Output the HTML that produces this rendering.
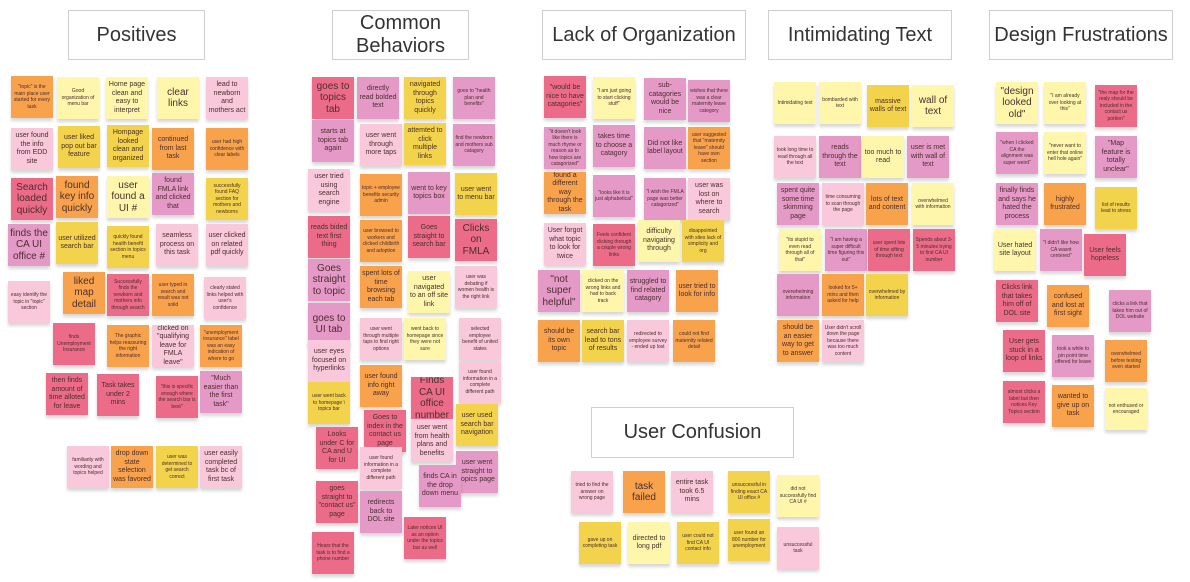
<!DOCTYPE html>
<html><head><meta charset="utf-8">
<style>
body{margin:0;width:1190px;height:582px;background:#fff;position:relative;overflow:hidden;font-family:"Liberation Sans",sans-serif;}
.t{position:absolute;border:1.5px solid #cfcfcf;background:#fff;box-sizing:border-box;display:flex;align-items:center;justify-content:center;text-align:center;color:#333;font-size:20px;line-height:23px;}
.n{position:absolute;width:42px;height:42px;box-sizing:border-box;padding:2px;display:flex;align-items:center;justify-content:center;text-align:center;color:#4a2f2f;font-size:5px;line-height:6.5px;box-shadow:0 3px 3px rgba(0,0,0,.16);overflow:hidden;}
.m{font-size:7px;line-height:8.5px;}
.b{font-size:10px;line-height:11.5px;}
.o{background:#f9a24c}.ly{background:#fdf6ab}.y{background:#f2d34b}.lp{background:#f9c8da}.mp{background:#e599c6}.r{background:#eb6b88}
</style></head><body>
<div class="t" style="left:68px;top:10px;width:137px;height:50px">Positives</div>
<div class="t" style="left:332px;top:10px;width:137px;height:50px">Common<br>Behaviors</div>
<div class="t" style="left:542px;top:10px;width:204px;height:50px">Lack of Organization</div>
<div class="t" style="left:768px;top:10px;width:184px;height:50px">Intimidating Text</div>
<div class="t" style="left:989px;top:10px;width:184px;height:50px">Design Frustrations</div>
<div class="t" style="left:591px;top:407px;width:203px;height:51px">User Confusion</div>

<!-- Positives -->
<div class="n o" style="left:11px;top:76px">"topic" is the main place user started for every task</div>
<div class="n ly" style="left:57px;top:77px">Good organization of menu bar</div>
<div class="n ly m" style="left:106px;top:77px">Home page clean and easy to interpret</div>
<div class="n ly b" style="left:157px;top:77px">clear links</div>
<div class="n lp m" style="left:206px;top:77px">lead to newborn and mothers act</div>
<div class="n lp m" style="left:11px;top:128px">user found the info from EDD site</div>
<div class="n y m" style="left:58px;top:126px">user liked pop out bar feature</div>
<div class="n y m" style="left:107px;top:125px">Hompage looked clean and organized</div>
<div class="n o m" style="left:152px;top:128px">continued from last task</div>
<div class="n o" style="left:206px;top:128px">user had high confidence with clear labels</div>
<div class="n r b" style="left:11px;top:178px">Search loaded quickly</div>
<div class="n o b" style="left:56px;top:176px">found key info quickly</div>
<div class="n ly b" style="left:107px;top:176px">user found a UI #</div>
<div class="n mp m" style="left:152px;top:173px">found FMLA link and clicked that</div>
<div class="n y" style="left:206px;top:178px">successfully found FAQ section for mothers and newborns</div>
<div class="n mp b" style="left:8px;top:224px">finds the CA UI office #</div>
<div class="n y m" style="left:56px;top:222px">user utilized search bar</div>
<div class="n y" style="left:107px;top:226px">quickly found health benefit section in topics menu</div>
<div class="n lp m" style="left:156px;top:224px">seamless process on this task</div>
<div class="n lp m" style="left:206px;top:224px">user clicked on related pdf quickly</div>
<div class="n lp" style="left:8px;top:281px">easy identify the topic in "topic" section</div>
<div class="n o b" style="left:63px;top:272px">liked map detail</div>
<div class="n r" style="left:107px;top:274px">Successfully finds the newborn and mothers info through search</div>
<div class="n o" style="left:152px;top:274px">user typed in search and result was not solid</div>
<div class="n lp" style="left:204px;top:277px">clearly stated links helped with user's confidence</div>
<div class="n r" style="left:53px;top:323px">finds Unemployment Insurance</div>
<div class="n o" style="left:107px;top:325px">The graphic helps reassuring the right information</div>
<div class="n lp m" style="left:152px;top:325px">clicked on "qualifying leave for FMLA leave"</div>
<div class="n o" style="left:200px;top:325px">"unemployment insurance" label was an easy indication of where to go</div>
<div class="n r m" style="left:46px;top:373px">then finds amount of time alloted for leave</div>
<div class="n r m" style="left:97px;top:374px">Task takes under 2 mins</div>
<div class="n r" style="left:156px;top:376px">"this is specific enough where the search bar is best"</div>
<div class="n mp m" style="left:200px;top:371px">"Much easier than the first task"</div>
<div class="n lp" style="left:67px;top:446px">familiarity with wording and topics helped</div>
<div class="n o m" style="left:111px;top:446px">drop down state selection was favored</div>
<div class="n y" style="left:156px;top:446px">user was determined to get search correct</div>
<div class="n lp m" style="left:200px;top:446px">user easily completed task bc of first task</div>

<!-- Common Behaviors -->
<div class="n r b" style="left:312px;top:77px">goes to topics tab</div>
<div class="n mp m" style="left:357px;top:77px">directly read bolded text</div>
<div class="n y m" style="left:404px;top:77px">navigated through topics quickly</div>
<div class="n mp" style="left:453px;top:77px">goes to "health plan and benefits"</div>
<div class="n mp m" style="left:312px;top:120px">starts at topics tab again</div>
<div class="n lp m" style="left:360px;top:124px">user went through more taps</div>
<div class="n y m" style="left:404px;top:123px">attemted to click multiple links</div>
<div class="n mp" style="left:453px;top:124px">find the newborn and mothers sub catagory</div>
<div class="n lp m" style="left:308px;top:169px">user tried using search engine</div>
<div class="n o" style="left:360px;top:174px">topic + employee benefits security admin</div>
<div class="n mp m" style="left:408px;top:172px">went to key topics box</div>
<div class="n y m" style="left:455px;top:173px">user went to menu bar</div>
<div class="n r m" style="left:308px;top:216px">reads bided text first thing</div>
<div class="n o" style="left:360px;top:220px">user browsed to workers and clicked childbirth and adoption</div>
<div class="n r m" style="left:408px;top:216px">Goes straight to search bar</div>
<div class="n r b" style="left:455px;top:219px">Clicks on FMLA</div>
<div class="n mp b" style="left:308px;top:259px">Goes straight to topic</div>
<div class="n o m" style="left:360px;top:266px">spent lots of time browsing each tab</div>
<div class="n ly m" style="left:408px;top:271px">user navigated to an off site link</div>
<div class="n lp" style="left:455px;top:266px">user was debating if women health is the right link</div>
<div class="n mp b" style="left:308px;top:303px">goes to UI tab</div>
<div class="n lp" style="left:360px;top:318px">user went through multiple taps to find right options</div>
<div class="n ly" style="left:404px;top:318px">went back to homepage since they were not sure</div>
<div class="n lp" style="left:459px;top:318px">selected employee benefit of united states</div>
<div class="n lp m" style="left:308px;top:340px">user eyes focused on hyperlinks</div>
<div class="n o m" style="left:360px;top:365px">user found info right away</div>
<div class="n r b" style="left:411px;top:377px">Finds CA UI office number</div>
<div class="n lp" style="left:459px;top:361px">user found information in a complete different path</div>
<div class="n y" style="left:308px;top:382px">user went back to homepage \ topics bar</div>
<div class="n y m" style="left:456px;top:404px">user used search bar navigation</div>
<div class="n r m" style="left:364px;top:410px">Goes to index in the contact us page</div>
<div class="n lp m" style="left:411px;top:420px">user went from health plans and benefits</div>
<div class="n r m" style="left:316px;top:427px">Looks under C for CA and U for UI</div>
<div class="n lp" style="left:360px;top:447px">user found information in a complete different path</div>
<div class="n mp m" style="left:456px;top:451px">user went straight to topics page</div>
<div class="n mp m" style="left:419px;top:465px">finds CA in the drop down menu</div>
<div class="n r m" style="left:316px;top:481px">goes straight to "contact us" page</div>
<div class="n mp m" style="left:360px;top:491px">redirects back to DOL site</div>
<div class="n r" style="left:404px;top:517px">Later notices UI as an option under the topics bar as well</div>
<div class="n r" style="left:312px;top:532px">Hears that the task is to find a phone number</div>

<!-- Lack of Organization -->
<div class="n r m" style="left:544px;top:76px">"would be nice to have catagories"</div>
<div class="n ly" style="left:593px;top:77px">"I am just going to start clicking stuff"</div>
<div class="n mp m" style="left:644px;top:78px">sub-catagories would be nice</div>
<div class="n mp" style="left:688px;top:80px">wishes that there was a clear maternity leave category</div>
<div class="n mp" style="left:544px;top:127px">"it doesn't look like there is much rhyme or reason as to how topics are catagorized"</div>
<div class="n mp m" style="left:593px;top:125px">takes time to choose a catagory</div>
<div class="n mp m" style="left:644px;top:127px">Did not like label layout</div>
<div class="n o" style="left:688px;top:127px">user suggested that "maternity leave" should have own section</div>
<div class="n o m" style="left:544px;top:172px">found a different way through the task</div>
<div class="n mp" style="left:593px;top:175px">"looks like it is just alphabetical"</div>
<div class="n mp" style="left:644px;top:178px">"I wish the FMLA page was better catagorized"</div>
<div class="n lp m" style="left:688px;top:178px">user was lost on where to search</div>
<div class="n lp m" style="left:544px;top:223px">User forgot what topic to look for twice</div>
<div class="n r" style="left:593px;top:224px">Feels confident clicking through a couple wrong links</div>
<div class="n ly m" style="left:638px;top:220px">difficulty navigating through</div>
<div class="n y" style="left:682px;top:220px">disappointed with sites lack of simplicity and org</div>
<div class="n mp b" style="left:538px;top:270px">"not super helpful"</div>
<div class="n ly" style="left:582px;top:270px">clicked on the wrong links and had to back track</div>
<div class="n mp m" style="left:627px;top:270px">struggled to find related catagory</div>
<div class="n o m" style="left:676px;top:270px">user tried to look for info</div>
<div class="n o m" style="left:538px;top:320px">should be its own topic</div>
<div class="n y m" style="left:582px;top:320px">search bar lead to tons of results</div>
<div class="n lp" style="left:627px;top:320px">redirected to employee survey - ended up lost</div>
<div class="n o" style="left:673px;top:320px">could not find maternity related detail</div>

<!-- Intimidating Text -->
<div class="n ly" style="left:774px;top:82px">Intimidating text</div>
<div class="n ly" style="left:819px;top:82px">bombarded with text</div>
<div class="n y m" style="left:867px;top:85px">massive walls of text</div>
<div class="n ly b" style="left:912px;top:85px">wall of text</div>
<div class="n lp" style="left:774px;top:136px">took long time to read through all the text</div>
<div class="n mp m" style="left:819px;top:136px">reads through the text</div>
<div class="n ly m" style="left:862px;top:136px">too much to read</div>
<div class="n mp m" style="left:907px;top:136px">user is met with wall of text</div>
<div class="n mp m" style="left:777px;top:183px">spent quite some time skimming page</div>
<div class="n lp" style="left:822px;top:183px">time consuming to scan through the page</div>
<div class="n o m" style="left:866px;top:183px">lots of text and content</div>
<div class="n ly" style="left:912px;top:183px">overwhelmed with information</div>
<div class="n ly" style="left:779px;top:229px">"its stupid to even read through all of that"</div>
<div class="n mp" style="left:825px;top:229px">"I am having a super difficult time figuring this out"</div>
<div class="n r" style="left:868px;top:229px">user spent lots of time sifting through text</div>
<div class="n r" style="left:913px;top:229px">Spends about 3-5 minutes trying to find CA UI number</div>
<div class="n mp" style="left:777px;top:274px">overwhelming information</div>
<div class="n o" style="left:822px;top:274px">looked for 5+ mins and then asked for help</div>
<div class="n y" style="left:866px;top:274px">overwhelmed by information</div>
<div class="n o m" style="left:777px;top:320px">should be an easier way to get to answer</div>
<div class="n lp" style="left:822px;top:320px">User didn't scroll down the page because there was too much content</div>

<!-- Design Frustrations -->
<div class="n ly b" style="left:996px;top:82px">"design looked old"</div>
<div class="n ly" style="left:1044px;top:82px">"I am already over looking at this"</div>
<div class="n r" style="left:1095px;top:85px">"the map for the realy should be included in the contact us portion"</div>
<div class="n mp" style="left:996px;top:132px">"when I clicked CA the alignment was super weird"</div>
<div class="n ly" style="left:1044px;top:132px">"never want to enter that online hell hole again"</div>
<div class="n mp m" style="left:1095px;top:136px">"Map feature is totally unclear"</div>
<div class="n mp m" style="left:996px;top:183px">finally finds and says he hated the process</div>
<div class="n o m" style="left:1044px;top:183px">highly frustrated</div>
<div class="n y" style="left:1095px;top:187px">list of results lead to stress</div>
<div class="n ly m" style="left:994px;top:229px">User hated site layout</div>
<div class="n mp" style="left:1040px;top:229px">"I didn't like how CA wasnt centered"</div>
<div class="n r m" style="left:1084px;top:234px">User feels hopeless</div>
<div class="n r m" style="left:996px;top:280px">Clicks link that takes him off of DOL site</div>
<div class="n o m" style="left:1047px;top:285px">confused and lost at first sight</div>
<div class="n mp" style="left:1109px;top:290px">clicks a link that takes him out of DOL website</div>
<div class="n r m" style="left:1003px;top:330px">User gets stuck in a loop of links</div>
<div class="n mp" style="left:1052px;top:335px">took a while to pin point time offered for leave</div>
<div class="n o" style="left:1105px;top:340px">overwhelmed before testing even started</div>
<div class="n r" style="left:1003px;top:381px">almost clicks a label but then notices Key Topics section</div>
<div class="n o m" style="left:1052px;top:385px">wanted to give up on task</div>
<div class="n ly" style="left:1105px;top:388px">not enthused or encouraged</div>

<!-- User Confusion -->
<div class="n lp" style="left:571px;top:471px">tried to find the answer on wrong page</div>
<div class="n o b" style="left:623px;top:471px">task failed</div>
<div class="n lp m" style="left:671px;top:471px">entire task took 6.5 mins</div>
<div class="n y" style="left:728px;top:471px">unsuccessful in finding exact CA UI office #</div>
<div class="n ly" style="left:777px;top:475px">did not successfully find CA UI #</div>
<div class="n y" style="left:579px;top:522px">gave up on completing task</div>
<div class="n ly m" style="left:628px;top:522px">directed to long pdf</div>
<div class="n y" style="left:677px;top:522px">user could not find CA UI contact info</div>
<div class="n y" style="left:728px;top:519px">user found an 800 number for unemployment</div>
<div class="n lp" style="left:777px;top:527px">unsuccessful task</div>
</body></html>
